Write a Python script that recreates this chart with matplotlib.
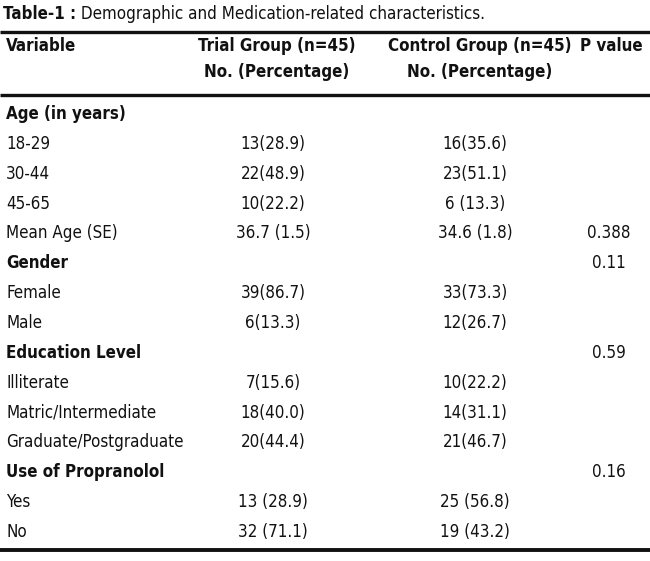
import matplotlib
matplotlib.use("Agg")
import matplotlib.pyplot as plt

# ---- data ----
title_bold = "Table-1 :"
title_rest = " Demographic and Medication-related characteristics."
header_line1 = ["Variable", "Trial Group (n=45)", "Control Group (n=45)", "P value"]
header_line2 = ["", "No. (Percentage)", "No. (Percentage)", ""]
variables = ["Age (in years)", "18-29", "30-44", "45-65", "Mean Age (SE)",
             "Gender", "Female", "Male",
             "Education Level", "Illiterate", "Matric/Intermediate", "Graduate/Postgraduate",
             "Use of Propranolol", "Yes", "No"]
is_heading = [True, False, False, False, False,
              True, False, False,
              True, False, False, False,
              True, False, False]
trial = ["", "13(28.9)", "22(48.9)", "10(22.2)", "36.7 (1.5)",
         "", "39(86.7)", "6(13.3)",
         "", "7(15.6)", "18(40.0)", "20(44.4)",
         "", "13 (28.9)", "32 (71.1)"]
control = ["", "16(35.6)", "23(51.1)", "6 (13.3)", "34.6 (1.8)",
           "", "33(73.3)", "12(26.7)",
           "", "10(22.2)", "14(31.1)", "21(46.7)",
           "", "25 (56.8)", "19 (43.2)"]
pvals = ["", "", "", "", "0.388",
         "0.11", "", "",
         "0.59", "", "", "",
         "0.16", "", ""]

W, H = 650, 561
fam = ["DejaVu Sans"]
col = "#111111"
fs = 12.2
st = "condensed"

fig = plt.figure(figsize=(W / 100, H / 100), dpi=100)
ax = fig.add_axes([0, 0, 1, 1])
ax.set_xlim(0, W)
ax.set_ylim(H, 0)
ax.axis("off")

def txt(x, y, s, ha="left", bold=False):
    return ax.text(x, y, s, fontsize=fs, fontweight="bold" if bold else "normal",
                   family=fam, fontstretch=st, color=col, va="center", ha=ha)

# title
t1 = txt(3, 14, title_bold, bold=True)
fig.canvas.draw()
bb = t1.get_window_extent()
inv = ax.transData.inverted()
x_end = inv.transform((bb.x1, bb.y0))[0]
txt(x_end, 14, title_rest)

# rules
ax.plot([0, W], [32, 32], color=col, lw=2.4, solid_capstyle="butt")
ax.plot([0, W], [95, 95], color=col, lw=2.4, solid_capstyle="butt")
ax.plot([0, W], [550, 550], color=col, lw=2.8, solid_capstyle="butt")

# headers
hx = [6, 277, 480, 611]
has = ["left", "center", "center", "center"]
for x, ha, s1, s2 in zip(hx, has, header_line1, header_line2):
    txt(x, 46, s1, ha=ha, bold=True)
    if s2:
        txt(x, 72, s2, ha=ha, bold=True)

# body rows
y0, dy = 114, 29.86
for i, (v, hd, a, b, p) in enumerate(zip(variables, is_heading, trial, control, pvals)):
    y = y0 + i * dy
    txt(6, y, v, bold=hd)
    if a:
        txt(273, y, a, ha="center")
    if b:
        txt(475, y, b, ha="center")
    if p:
        txt(609, y, p, ha="center")

fig.savefig("out.png", dpi=100, facecolor="white")
